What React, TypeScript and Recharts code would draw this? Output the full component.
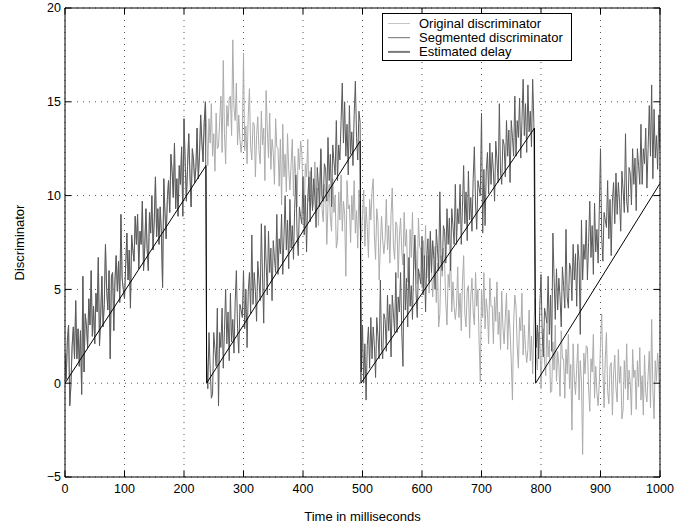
import React from 'react';
import { LineChart, Line, XAxis, YAxis, CartesianGrid, Legend } from 'recharts';

// ---------- data ----------
const SAMPLE_STEP_MS = 2;

// 0 .. 236 ms : original and segmented discriminator coincide
const sharedFirstSegment = [
  1.6, 0.2, 2.3, 3.1, -1.2, -0.1, 2.0, 3.0, 1.3, 4.4,
  1.3, 2.9, 0.9, 2.8, -0.6, 5.7, 0.6, 3.7, 3.1, 1.9,
  4.5, 3.1, 6.0, 2.5, 4.1, 2.1, 4.8, 3.8, 6.7, 2.0,
  3.6, 5.7, 3.0, 4.2, 7.4, 5.0, 3.9, 6.0, 1.3, 5.7,
  5.9, 2.8, 5.5, 6.8, 4.9, 6.5, 4.3, 9.0, 5.6, 5.0,
  4.5, 6.3, 8.0, 5.5, 7.1, 4.0, 7.9, 7.1, 6.5, 8.9,
  7.4, 9.0, 6.1, 8.1, 7.4, 9.7, 6.0, 7.2, 9.3, 7.2,
  6.0, 9.1, 8.0, 10.0, 7.1, 8.7, 11.0, 7.8, 9.3, 7.4,
  9.4, 8.0, 5.1, 10.9, 9.1, 7.7, 9.8, 10.8, 9.1, 12.2,
  11.3, 9.9, 12.8, 9.3, 10.9, 8.9, 11.6, 10.6, 12.6, 8.9,
  14.1, 11.7, 9.7, 11.6, 13.3, 11.1, 9.4, 12.5, 11.9, 10.7,
  11.5, 13.6, 10.9, 12.1, 14.3, 12.9, 11.8, 13.9, 15.0,
];

// 238 .. 1000 ms : original discriminator
const originalAfterReset = [
  13.6, 11.6, 14.1, 12.8, 14.9, 12.1, 13.3, 11.3, 14.4, 12.5,
  12.6, 14.0, 15.3, 12.3, 17.2, 13.3, 11.7, 14.8, 13.7, 15.2,
  15.3, 13.2, 18.3, 14.7, 14.0, 16.0, 12.7, 14.3, 13.0, 12.3,
  13.0, 17.6, 12.4, 13.7, 11.7, 14.3, 15.7, 12.6, 11.9, 13.9,
  13.8, 11.0, 13.2, 14.2, 12.4, 11.7, 14.5, 12.7, 13.6, 10.8,
  15.6, 13.5, 12.0, 14.4, 11.4, 13.0, 12.3, 10.6, 14.1, 12.6,
  12.5, 10.5, 13.0, 9.5, 13.8, 11.0, 12.2, 10.2, 13.3, 11.4,
  10.3, 11.7, 13.0, 10.0, 12.1, 11.0, 9.4, 12.5, 11.4, 12.9,
  12.3, 10.2, 9.0, 11.7, 11.0, 13.0, 9.7, 11.3, 10.0, 9.3,
  9.7, 11.8, 9.1, 10.4, 8.4, 11.0, 12.4, 9.3, 8.6, 10.6,
  10.2, 7.4, 9.6, 10.6, 8.8, 8.1, 10.9, 9.1, 10.0, 7.2,
  7.6, 10.2, 8.7, 11.1, 8.1, 9.7, 9.0, 5.7, 10.8, 9.3,
  9.5, 7.5, 10.0, 8.7, 10.8, 8.0, 9.2, 7.2, 10.3, 8.4,
  7.6, 9.0, 10.3, 7.3, 9.4, 8.3, 6.7, 9.8, 8.7, 10.2,
  10.9, 7.8, 6.6, 9.3, 8.6, 5.5, 7.3, 8.9, 7.6, 6.9,
  7.7, 9.8, 7.1, 8.4, 6.4, 9.0, 10.4, 7.3, 6.6, 8.6,
  8.4, 5.6, 7.8, 8.8, 7.0, 6.3, 9.1, 7.3, 8.2, 5.4,
  5.6, 8.2, 6.7, 9.1, 6.1, 7.7, 7.0, 5.3, 8.8, 7.3,
  7.1, 5.1, 7.6, 6.3, 8.4, 5.6, 6.8, 4.8, 7.9, 6.0,
  4.6, 6.0, 7.3, 4.3, 6.4, 3.0, 3.7, 6.8, 5.7, 7.2,
  6.4, 4.3, 3.1, 5.8, 5.1, 7.1, 3.8, 5.4, 4.1, 3.4,
  4.1, 6.2, 3.5, 4.8, 2.8, 5.4, 6.8, 3.7, 3.0, 5.0,
  5.2, 2.4, 4.6, 5.6, 3.8, 3.1, 5.9, 4.1, 5.0, 2.2,
  0.1, 5.0, 3.5, 5.9, 2.9, 4.5, 3.8, 2.1, 5.6, 4.1,
  4.1, 2.1, 4.6, 3.3, 5.4, 2.6, 3.8, 1.8, 4.9, 3.0,
  2.1, 3.5, 4.8, 1.8, 3.9, 2.8, 1.2, -0.9, 3.2, 4.7,
  4.1, 2.0, 0.8, 3.5, 2.8, 4.8, 1.5, 3.1, 1.8, 1.1,
  1.8, 3.9, 1.2, 2.5, 0.5, 3.1, 4.5, 1.4, 0.7, 2.7,
  2.5, -0.3, 1.9, 2.9, 1.1, 0.4, 3.2, 1.4, 2.3, -0.5,
  -0.4, 2.2, 0.7, 3.1, 0.1, 1.7, 1.0, -0.7, 2.8, 1.3,
  1.3, -0.8, 1.8, 0.5, 2.6, -0.3, 1.0, -2.5, 2.1, 0.2,
  -0.6, 0.8, 2.1, -0.9, 1.2, 0.1, -3.8, 1.6, 0.5, 2.0,
  1.9, -0.3, -1.5, 1.3, 0.6, 2.6, -0.8, 0.9, -0.5, -1.2,
  0.0, 2.1, 3.7, 0.7, -1.3, 1.3, 2.7, -0.4, -1.1, 0.9,
  1.1, -1.7, 0.5, 1.5, -0.3, -1.0, 1.8, 0.0, 0.9, -1.9,
  -1.4, 1.2, -0.3, 2.1, -0.9, 0.7, 0.0, -1.7, 1.8, 0.3,
  0.7, -1.4, 1.2, -0.2, 1.9, -0.9, 0.4, -1.7, 1.5, -0.5,
  -1.0, 0.4, 1.7, -1.3, 3.4, -0.3, -1.9, 1.2, 0.1, 1.6,
  0.6, -2.4,
];

// segmented discriminator, 238 .. 496 ms
const segmentedSecond = [
  1.4, -0.3, 2.7, 0.8, -0.8, -0.6, 2.7, 1.8, 0.9, 4.0,
  -1.2, 2.7, 1.9, 4.0, 0.8, 2.8, 5.0, 2.1, 3.8, 1.2,
  4.8, 2.2, 3.4, 1.6, 4.3, 6.0, 2.9, 1.6, 4.2, 3.9,
  3.5, 6.0, 2.9, 5.0, 1.9, 4.9, 5.9, 3.7, 7.9, 4.2,
  5.9, 4.9, 3.3, 6.5, 5.5, 4.4, 8.5, 5.6, 3.2, 8.4,
  6.4, 4.7, 8.1, 5.9, 7.2, 4.4, 7.6, 6.7, 5.9, 9.0,
  5.8, 7.7, 6.9, 9.0, 5.8, 7.8, 10.0, 7.1, 8.7, 6.1,
  9.8, 7.2, 8.4, 6.6, 9.3, 11.1, 8.0, 6.8, 9.4, 8.9,
  8.5, 11.0, 7.9, 10.0, 7.0, 9.9, 11.0, 8.6, 11.5, 9.2,
  10.9, 9.9, 8.3, 11.5, 10.5, 9.4, 12.5, 10.0, 9.7, 11.7,
  11.4, 9.7, 13.1, 10.8, 12.2, 9.4, 12.7, 11.8, 11.1, 14.0,
  10.8, 12.7, 11.9, 14.0, 16.0, 12.8, 15.0, 12.1, 13.8, 11.1,
  14.8, 12.2, 13.4, 11.6, 14.3, 16.1, 13.1, 11.9, 14.5, 13.9,
];

// segmented discriminator, 498 .. 788 ms
const segmentedThird = [
  0.6, 3.1, 0.0, 2.1, -0.9, 2.0, 3.0, 0.8, 3.5, 1.3,
  3.0, 2.0, 0.3, 3.5, 2.5, 1.3, 5.5, 1.9, 1.3, 3.7,
  3.4, 1.7, 4.7, 2.8, 4.2, 1.4, 4.7, 3.7, 2.7, 5.9,
  2.7, 4.6, 3.8, 5.9, 2.7, 0.9, 6.9, 3.9, 5.6, 3.0,
  6.7, 4.1, 5.2, 3.4, 6.2, 7.9, 4.8, 3.5, 6.1, 5.7,
  5.3, 7.8, 4.7, 6.8, 3.8, 6.7, 7.7, 5.4, 8.1, 5.9,
  7.6, 6.6, 5.0, 8.2, 7.2, 6.0, 10.2, 6.6, 6.0, 8.4,
  8.1, 6.4, 9.3, 7.4, 8.8, 6.0, 9.3, 8.4, 7.4, 10.6,
  7.4, 9.3, 8.5, 10.6, 7.4, 9.4, 11.6, 8.5, 10.2, 7.6,
  11.3, 8.7, 9.9, 8.1, 10.9, 12.6, 9.5, 8.2, 10.8, 10.4,
  10.0, 14.4, 8.0, 11.4, 8.4, 11.3, 12.3, 10.1, 12.8, 10.6,
  12.3, 11.3, 9.7, 12.9, 11.9, 10.7, 14.9, 11.2, 10.6, 13.0,
  12.7, 11.0, 14.0, 12.1, 13.5, 10.7, 14.0, 13.1, 12.1, 15.3,
  12.1, 14.0, 13.1, 15.2, 12.0, 14.0, 16.2, 13.2, 14.9, 12.3,
  15.9, 13.4, 14.5, 12.6, 16.2, 13.9,
];

// segmented discriminator, 790 .. 1000 ms
const segmentedFourth = [
  4.5, 1.9, 3.1, 1.3, 4.1, 5.8, 2.7, 1.4, 4.0, 3.6,
  3.2, 5.7, 2.6, 4.7, 1.7, 8.0, 5.6, 3.4, 6.1, 3.9,
  5.6, 4.6, 3.0, 6.2, 5.2, 4.0, 8.2, 4.6, 4.0, 6.4,
  6.1, 4.4, 7.4, 5.5, 6.9, 4.1, 7.4, 6.5, 2.6, 8.7,
  5.5, 7.4, 6.6, 8.7, 5.5, 7.5, 9.7, 6.7, 8.4, 5.8,
  9.6, 7.0, 8.2, 6.4, 9.2, 12.5, 7.8, 6.5, 9.1, 8.7,
  8.3, 10.8, 7.7, 9.8, 6.8, 9.7, 10.7, 8.5, 11.2, 9.0,
  10.7, 9.7, 8.1, 11.3, 10.3, 9.1, 13.3, 9.7, 9.1, 11.5,
  11.2, 9.5, 12.5, 10.6, 12.0, 9.2, 12.5, 11.6, 10.6, 13.8,
  10.6, 12.5, 11.7, 13.6, 10.4, 12.5, 14.8, 12.1, 15.9, 10.9,
  14.6, 12.0, 13.2, 11.4, 14.3, 12.4,
];

// estimated delay (saw-tooth)
const delayTimes = [0, 237, 238, 496, 497.5, 789, 791, 1000];
const delayValues = [0, 11.6, 0, 12.9, 0, 13.6, 0, 10.65];

const xTicks = [0, 100, 200, 300, 400, 500, 600, 700, 800, 900, 1000];
const yTicks = [-5, 0, 5, 10, 15, 20];

const legendEntries = [
  { name: 'Original discriminator', color: '#c4c4c4', width: 1 },
  { name: 'Segmented discriminator', color: '#6e6e6e', width: 1 },
  { name: 'Estimated delay', color: '#7a7a7a', width: 2 },
];

// ---------- tables built from the arrays ----------
const originalValues = [...sharedFirstSegment, ...originalAfterReset];
const segmentedValues = [
  ...sharedFirstSegment,
  ...segmentedSecond,
  ...segmentedThird,
  ...segmentedFourth,
];
const originalData = originalValues.map((v, i) => ({ t: i * SAMPLE_STEP_MS, v }));
const segmentedData = segmentedValues.map((v, i) => ({ t: i * SAMPLE_STEP_MS, v }));
const delayData = delayTimes.map((t, i) => ({ t, v: delayValues[i] }));

const FONT = '"Liberation Sans", Arial, Helvetica, sans-serif';

const NoTick = () => <g />;

const formatY = (v: number) => (v < 0 ? '\u2212' + Math.abs(v) : String(v));

const XLabel = (props: any) => {
  const vb = props.viewBox || {};
  return (
    <text
      x={vb.x + vb.width / 2}
      y={vb.y + vb.height - 8}
      textAnchor="middle"
      fontSize={13}
      fontFamily={FONT}
      fill="#000"
    >
      Time in milliseconds
    </text>
  );
};

const YLabel = (props: any) => {
  const vb = props.viewBox || {};
  const x = vb.x + 23.5;
  const y = vb.y + vb.height / 2;
  return (
    <text
      x={x}
      y={y}
      transform={`rotate(-90 ${x} ${y})`}
      textAnchor="middle"
      fontSize={13}
      fontFamily={FONT}
      fill="#000"
    >
      Discriminator
    </text>
  );
};

const LegendBox = () => (
  <svg width={190} height={48} style={{ display: 'block' }}>
    <rect x={0.5} y={0.5} width={189} height={47} fill="#fff" stroke="#000" strokeWidth={1} />
    {legendEntries.map((e, i) => (
      <g key={e.name}>
        <line
          x1={6}
          x2={28}
          y1={10.5 + 14.2 * i}
          y2={10.5 + 14.2 * i}
          stroke={e.color}
          strokeWidth={e.width}
        />
        <text x={37} y={15 + 14.2 * i} fontSize={13} fontFamily={FONT} fill="#000">
          {e.name}
        </text>
      </g>
    ))}
  </svg>
);

export default function App() {
  return (
    <div style={{ position: 'absolute', left: 0, top: 0, width: 697, height: 529, background: '#fff' }}>
      <LineChart width={697} height={529} margin={{ top: 7, right: 36, bottom: 0, left: 0 }}>
        <CartesianGrid stroke="#555" strokeDasharray="1 5" />
        <XAxis
          dataKey="t"
          type="number"
          domain={[0, 1000]}
          ticks={xTicks}
          interval={0}
          allowDataOverflow
          height={52}
          tickSize={-6}
          tickMargin={13}
          axisLine={{ stroke: '#000' }}
          tickLine={{ stroke: '#000' }}
          tick={{ fill: '#000', fontSize: 12.5, fontFamily: FONT }}
          label={XLabel}
        />
        <XAxis
          xAxisId="top"
          orientation="top"
          dataKey="t"
          type="number"
          domain={[0, 1000]}
          ticks={xTicks}
          interval={0}
          allowDataOverflow
          height={1}
          tickSize={-6}
          axisLine={{ stroke: '#000' }}
          tickLine={{ stroke: '#000' }}
          tick={NoTick}
        />
        <YAxis
          type="number"
          domain={[-5, 20]}
          ticks={yTicks}
          interval={0}
          allowDataOverflow
          width={65}
          tickSize={-6}
          tickMargin={10}
          axisLine={{ stroke: '#000' }}
          tickLine={{ stroke: '#000' }}
          tick={{ fill: '#000', fontSize: 12.5, fontFamily: FONT }}
          tickFormatter={formatY}
          label={YLabel}
        />
        <YAxis
          yAxisId="right"
          orientation="right"
          type="number"
          domain={[-5, 20]}
          ticks={yTicks}
          interval={0}
          allowDataOverflow
          width={1}
          tickSize={-6}
          axisLine={{ stroke: '#000' }}
          tickLine={{ stroke: '#000' }}
          tick={NoTick}
        />
        <Line
          data={originalData}
          xAxisId="top"
          yAxisId="right"
          dataKey="v"
          name="Original discriminator"
          type="linear"
          stroke="#ababab"
          strokeWidth={1}
          dot={false}
          isAnimationActive={false}
        />
        <Line
          data={segmentedData}
          dataKey="v"
          name="Segmented discriminator"
          type="linear"
          stroke="#5a5a5a"
          strokeWidth={1}
          dot={false}
          isAnimationActive={false}
        />
        <Line
          data={delayData}
          dataKey="v"
          name="Estimated delay"
          type="linear"
          stroke="#000"
          strokeWidth={1}
          dot={false}
          isAnimationActive={false}
        />
        <Legend
          layout="vertical"
          align="center"
          verticalAlign="middle"
          wrapperStyle={{ left: 382, top: 13, width: 190, height: 48 }}
          content={LegendBox}
        />
      </LineChart>
    </div>
  );
}
